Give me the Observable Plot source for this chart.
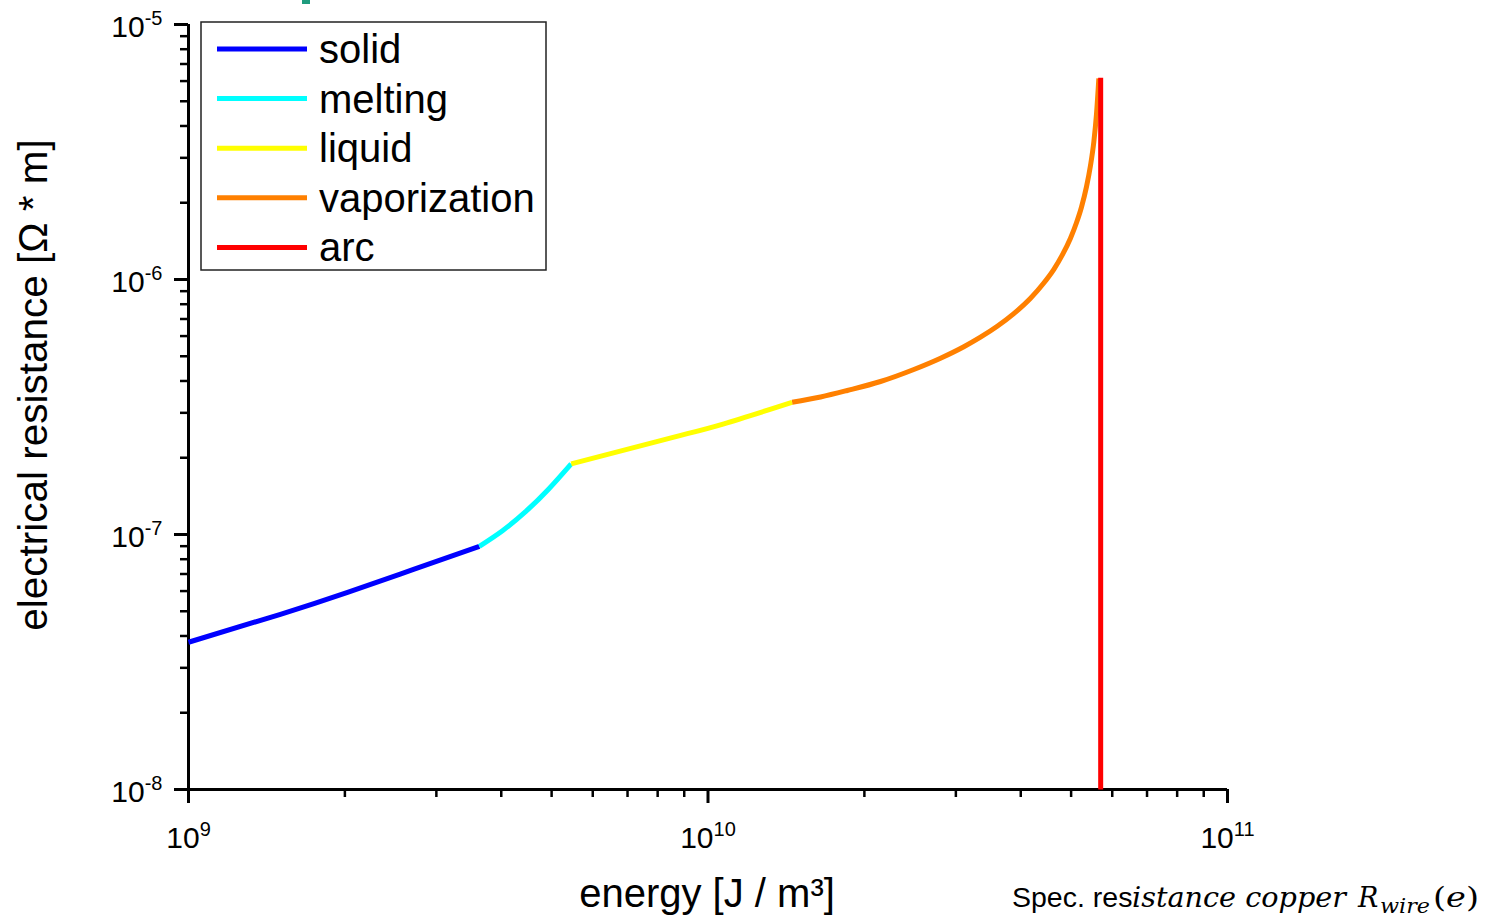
<!DOCTYPE html>
<html><head><meta charset="utf-8">
<script src="https://cdn.jsdelivr.net/npm/d3@7"></script>
<script src="https://cdn.jsdelivr.net/npm/@observablehq/plot@0.6"></script>
<style>
html,body{margin:0;padding:0;background:#fff;}
#wrap{position:relative;width:1489px;height:920px;overflow:hidden;font-family:"Liberation Sans",Arial,sans-serif;}
#overlay{position:absolute;left:0;top:0;pointer-events:none;}
#frag{position:absolute;left:302px;top:0;width:8px;height:4px;background:#1f9c7e;}
</style></head><body>
<div id="wrap"><div id="chart"></div><svg id="overlay" width="1489" height="920" xmlns="http://www.w3.org/2000/svg"></svg><div id="frag"></div></div>
<script>
// ---- data ----
const phases = ["solid", "melting", "liquid", "vaporization", "arc"];
const phaseColors = ["#0000ff", "#00ffff", "#ffff00", "#ff8000", "#ff0000"];

const solidEnergy = [1.0e9, 1.503e9, 2.024e9, 2.711e9, 3.63e9];
const solidRes    = [3.78e-8, 4.865e-8, 5.934e-8, 7.296e-8, 8.99e-8];

const meltingEnergy = [3.63e9, 4.022e9, 4.455e9, 4.932e9, 5.454e9];
const meltingRes    = [8.99e-8, 1.035e-7, 1.229e-7, 1.505e-7, 1.893e-7];

const liquidEnergy = [5.454e9, 8.60e9, 1.073e10, 1.452e10];
const liquidRes    = [1.893e-7, 2.41e-7, 2.717e-7, 3.30e-7];

const vaporEnergy = [1.452e10, 1.647e10, 1.854e10, 2.148e10, 2.490e10, 2.803e10, 3.108e10, 3.346e10, 3.604e10, 3.873e10, 4.177e10,
                     4.430e10, 4.632e10, 4.812e10, 4.986e10, 5.120e10, 5.236e10, 5.352e10, 5.448e10, 5.530e10, 5.595e10, 5.654e10];
const vaporRes    = [3.30e-7, 3.462e-7, 3.671e-7, 3.981e-7, 4.437e-7, 4.913e-7, 5.450e-7, 5.939e-7, 6.555e-7, 7.332e-7, 8.446e-7,
                     9.689e-7, 1.0965e-6, 1.251e-6, 1.452e-6, 1.669e-6, 1.925e-6, 2.308e-6, 2.796e-6, 3.467e-6, 4.445e-6, 6.141e-6];

const arcEnergy = [5.70e10, 5.70e10];
const arcRes    = [6.18e-6, 1e-8];

const xMajorTicks = [1e9, 1e10, 1e11];
const xTickLabels = ["10^9", "10^10", "10^11"];
const xMinorTicks = [2e9, 3e9, 4e9, 5e9, 6e9, 7e9, 8e9, 9e9, 2e10, 3e10, 4e10, 5e10, 6e10, 7e10, 8e10, 9e10];
const yMajorTicks = [1e-8, 1e-7, 1e-6, 1e-5];
const yTickLabels = ["10^-8", "10^-7", "10^-6", "10^-5"];
const yMinorTicks = [2e-8, 3e-8, 4e-8, 5e-8, 6e-8, 7e-8, 8e-8, 9e-8,
                     2e-7, 3e-7, 4e-7, 5e-7, 6e-7, 7e-7, 8e-7, 9e-7,
                     2e-6, 3e-6, 4e-6, 5e-6, 6e-6, 7e-6, 8e-6, 9e-6];

const xTitle = "energy [J / m³]";
const yTitle = "electrical resistance [Ω * m]";

// ---- build ----
const series = [
  [solidEnergy, solidRes, "natural"], [meltingEnergy, meltingRes, "natural"], [liquidEnergy, liquidRes, "natural"],
  [vaporEnergy, vaporRes, "monotone-x"], [arcEnergy, arcRes, "linear"]
];
const lineMarks = series.map(([E, R, curve], i) => {
  const rows = E.map((e, j) => ({energy: e, res: R[j]}));
  return Plot.line(rows, {x: "energy", y: "res", stroke: phaseColors[i], strokeWidth: 5,
    strokeLinecap: "butt", strokeLinejoin: "round", curve});
});
const xLab = xMajorTicks.map((v, i) => ({v, t: xTickLabels[i]}));
const yLab = yMajorTicks.map((v, i) => ({v, t: yTickLabels[i]}));

const plot = Plot.plot({
  width: 1489, height: 920,
  marginLeft: 188, marginRight: 262, marginTop: 24, marginBottom: 131,
  style: {fontFamily: '"Liberation Sans", Arial, sans-serif', background: "white", overflow: "visible", color: "black"},
  x: {type: "log", domain: [1e9, 1e11], axis: null},
  y: {type: "log", domain: [1e-8, 1e-5], axis: null},
  marks: [
    Plot.axisX({ticks: xMinorTicks, anchor: "bottom", tickSize: 8, strokeWidth: 2.5, tickFormat: () => "", label: null}),
    Plot.axisX({ticks: xMajorTicks, anchor: "bottom", tickSize: 14, strokeWidth: 3, tickFormat: () => "", label: null}),
    Plot.axisY({ticks: yMinorTicks, anchor: "left", tickSize: 8, strokeWidth: 2.5, tickFormat: () => "", label: null}),
    Plot.axisY({ticks: yMajorTicks, anchor: "left", tickSize: 14, strokeWidth: 3, tickFormat: () => "", label: null}),
    Plot.ruleX([xMajorTicks[0]], {y1: () => yMajorTicks[0], y2: () => yMajorTicks[3], strokeWidth: 3, stroke: "black"}),
    Plot.ruleY([yMajorTicks[0]], {x1: () => xMajorTicks[0], x2: () => xMajorTicks[2], strokeWidth: 3, stroke: "black"}),
    Plot.text(xLab, {x: "v", text: "t", frameAnchor: "bottom", dy: 58, lineAnchor: "bottom", textAnchor: "middle", fontSize: 30, fill: "black"}),
    Plot.text(yLab, {y: "v", text: "t", frameAnchor: "left", dx: -26, dy: 12, lineAnchor: "bottom", textAnchor: "end", fontSize: 30, fill: "black"}),
    ...lineMarks
  ]
});
document.getElementById("chart").appendChild(plot);

// superscripts for tick labels
plot.querySelectorAll("text").forEach(t => {
  const s = t.textContent;
  if (!s.includes("^")) return;
  const [base, exp] = s.split("^");
  while (t.firstChild) t.removeChild(t.firstChild);
  const a = document.createElementNS("http://www.w3.org/2000/svg", "tspan");
  a.textContent = base;
  const b = document.createElementNS("http://www.w3.org/2000/svg", "tspan");
  b.textContent = exp;
  b.setAttribute("font-size", "20");
  b.setAttribute("dy", "-12");
  t.appendChild(a); t.appendChild(b);
});

// ---- overlay: legend, titles, caption ----
const NS = "http://www.w3.org/2000/svg";
const ov = document.getElementById("overlay");
function el(name, attrs, text) {
  const e = document.createElementNS(NS, name);
  for (const k in attrs) e.setAttribute(k, attrs[k]);
  if (text != null) e.textContent = text;
  ov.appendChild(e);
  return e;
}
const FONT = '"Liberation Sans", Arial, sans-serif';
el("rect", {x: 201, y: 22, width: 345, height: 248, fill: "white", stroke: "#222", "stroke-width": 1.5});
phases.forEach((p, i) => {
  const cy = 49 + i * 49.6;
  el("line", {x1: 217, x2: 307, y1: cy, y2: cy, stroke: phaseColors[i], "stroke-width": 5});
  el("text", {x: 319, y: cy + 14, "font-family": FONT, "font-size": 40, fill: "black"}, p);
});
el("text", {x: 707, y: 907, "text-anchor": "middle", "font-family": FONT, "font-size": 40, fill: "black"}, xTitle);
el("text", {transform: "translate(47,385) rotate(-90)", "text-anchor": "middle", "font-family": FONT, "font-size": 40.5, fill: "black"}, yTitle);
// caption
const SERIF = '"DejaVu Serif", "Liberation Serif", serif';
el("text", {x: 1012, y: 907, "font-family": FONT, "font-size": 28.5, fill: "black"}, "Spec. res");
el("text", {x: 1132, y: 907, "font-family": SERIF, "font-style": "italic", "font-size": 27, fill: "black", textLength: 214, lengthAdjust: "spacingAndGlyphs"}, "istance copper");
el("text", {x: 1358, y: 907, "font-family": SERIF, "font-style": "italic", "font-size": 27, fill: "black"}, "R");
el("text", {x: 1380, y: 913, "font-family": SERIF, "font-style": "italic", "font-size": 20, fill: "black", textLength: 50, lengthAdjust: "spacingAndGlyphs"}, "wire");
const cap = el("text", {x: 1433, y: 907, "font-family": SERIF, "font-size": 27, fill: "black", textLength: 46, lengthAdjust: "spacingAndGlyphs"}, null);
[["(", "normal"], ["e", "italic"], [")", "normal"]].forEach(([s, st]) => {
  const ts = document.createElementNS(NS, "tspan");
  ts.setAttribute("font-style", st);
  ts.textContent = s;
  cap.appendChild(ts);
});
</script>
</body></html>
